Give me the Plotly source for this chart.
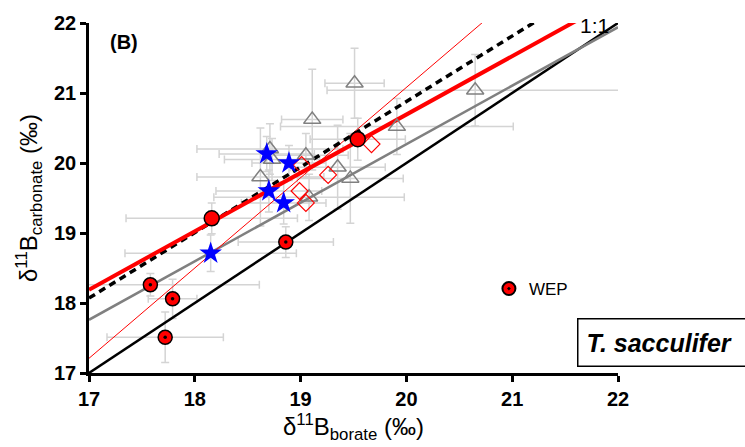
import plotly.graph_objects as go

# ---------------- data ----------------
# open grey triangles
tri_x = [19.51, 19.11, 19.91, 20.65, 18.71, 18.73, 19.05, 19.35, 18.62, 19.47, 19.08]
tri_y = [21.14, 20.62, 20.52, 21.04, 20.20, 20.05, 20.11, 19.94, 19.80, 19.78, 19.51]
tri_ex = [0.28, 0.29, 1.10, 1.40, 0.69, 0.45, 0.40, 0.45, 0.60, 0.50, 0.90]
tri_ey = [0.50, 0.72, 0.40, 0.51, 0.36, 0.30, 0.31, 0.60, 0.70, 0.64, 0.33]

# red filled circles
circ_x = [18.16, 19.54]
circ_y = [19.21, 20.34]
circ_ex = [0.81, 0.45]
circ_ey = [0.22, 0.30]

# red circles with black dot (WEP)
wep_x = [17.58, 17.79, 17.72, 18.86]
wep_y = [18.26, 18.06, 17.51, 18.87]
wep_ex = [1.03, 0.23, 0.55, 0.45]
wep_ey = [0.16, 0.28, 0.36, 0.22]

# blue stars
star_x = [18.68, 18.89, 18.70, 18.84, 18.15]
star_y = [20.13, 20.00, 19.60, 19.43, 18.71]
star_ex = [0.45, 0.35, 0.50, 0.40, 0.81]
star_ey = [0.25, 0.25, 0.30, 0.30, 0.26]

# open red diamonds
dia_x = [19.67, 19.26, 18.99, 19.05, 19.01]
dia_y = [20.27, 19.83, 19.60, 19.43, 19.97]

# fitted / reference lines: y = intercept + slope * (x - 17)
line_names = ["1:1", "grey fit", "thin red fit", "dashed fit", "red fit"]
line_intercepts = [17.0, 17.76, 17.21, 18.07, 18.19]
line_slopes = [1.0, 0.836, 1.29, 0.936, 0.834]
line_colors = ["#000000", "#808080", "#ff0000", "#000000", "#ff0000"]
line_widths = [2.5, 2.5, 1, 3.5, 4]
line_dash = ["solid", "solid", "solid", "7px,5px", "solid"]

x_range = [17, 22]
y_range = [17, 22]
tick_vals = [17, 18, 19, 20, 21, 22]

# ---------------- figure ----------------
fig = go.Figure()

EB_COL = "#d4d4d4"

def err_trace(xs, ys, exs, eys):
    return go.Scatter(
        x=xs, y=ys, mode="markers",
        marker=dict(size=1, color="rgba(0,0,0,0)"),
        error_x=dict(type="data", array=exs, color=EB_COL, thickness=1.5, width=4),
        error_y=dict(type="data", array=eys, color=EB_COL, thickness=1.5, width=4),
        showlegend=False, hoverinfo="skip",
    )

fig.add_trace(err_trace(tri_x, tri_y, tri_ex, tri_ey))
fig.add_trace(err_trace(star_x, star_y, star_ex, star_ey))
fig.add_trace(err_trace(circ_x, circ_y, circ_ex, circ_ey))
fig.add_trace(err_trace(wep_x, wep_y, wep_ex, wep_ey))

for name, b, m, c, w, d in zip(line_names, line_intercepts, line_slopes,
                                line_colors, line_widths, line_dash):
    xs = list(x_range)
    ys = [b + m * (xv - 17) for xv in xs]
    fig.add_trace(go.Scatter(x=xs, y=ys, mode="lines", name=name,
                             line=dict(color=c, width=w, dash=d),
                             showlegend=False, hoverinfo="skip"))

fig.add_trace(go.Scatter(x=tri_x, y=tri_y, mode="markers", showlegend=False,
                         marker=dict(symbol="triangle-up-open", size=15,
                                     color="#808080", line=dict(width=1.5, color="#808080"))))
fig.add_trace(go.Scatter(x=dia_x, y=dia_y, mode="markers", showlegend=False,
                         marker=dict(symbol="diamond-open", size=13,
                                     color="#ff0000", line=dict(width=1.2, color="#ff0000"))))
fig.add_trace(go.Scatter(x=star_x, y=star_y, mode="markers", showlegend=False,
                         marker=dict(symbol="star", size=17, color="#0000ff",
                                     line=dict(width=0))))
fig.add_trace(go.Scatter(x=circ_x, y=circ_y, mode="markers", showlegend=False,
                         marker=dict(symbol="circle", size=15, color="#ff0000",
                                     line=dict(width=1.5, color="#000000"))))
fig.add_trace(go.Scatter(x=wep_x, y=wep_y, mode="markers", showlegend=False,
                         marker=dict(symbol="circle", size=14, color="#ff0000",
                                     line=dict(width=1.5, color="#000000"))))
fig.add_trace(go.Scatter(x=wep_x, y=wep_y, mode="markers", showlegend=False,
                         marker=dict(symbol="circle", size=3.5, color="#000000",
                                     line=dict(width=0))))
# legend entry
fig.add_trace(go.Scatter(x=[None], y=[None], mode="markers", name="WEP",
                         showlegend=True,
                         marker=dict(symbol="circle-dot", size=13, color="#ff0000",
                                     line=dict(width=2, color="#000000"))))

fig.update_layout(
    width=745, height=447,
    margin=dict(l=89, r=127, t=23, b=74),
    paper_bgcolor="white", plot_bgcolor="white",
    font=dict(family="Liberation Sans, Arial, sans-serif", color="black"),
    showlegend=True,
    legend=dict(x=0.756, y=0.24, xanchor="left", yanchor="middle",
                bgcolor="rgba(0,0,0,0)", font=dict(size=17),
                itemwidth=30, tracegroupgap=0),
    xaxis=dict(range=x_range, tickvals=tick_vals, showgrid=False, zeroline=False,
               showline=True, linecolor="black", linewidth=2.5,
               ticks="outside", ticklen=6, tickwidth=2.5, tickcolor="black",
               tickfont=dict(size=20, family="Liberation Sans", weight="bold"),
               title=dict(text="δ<sup>11</sup>B<sub>borate</sub> (‰)",
                          font=dict(size=24), standoff=6)),
    yaxis=dict(range=y_range, tickvals=tick_vals, showgrid=False, zeroline=False,
               showline=True, linecolor="black", linewidth=2.5,
               ticks="outside", ticklen=6, tickwidth=2.5, tickcolor="black",
               tickfont=dict(size=20, family="Liberation Sans", weight="bold"),
               title=dict(text="δ<sup>11</sup>B<sub>carbonate</sub> (‰)",
                          font=dict(size=24), standoff=10)),
)

fig.add_annotation(text="<b>(B)</b>", xref="paper", yref="paper",
                   x=0.036, y=0.945, xanchor="left", yanchor="middle",
                   showarrow=False, font=dict(size=20))
fig.add_annotation(text="1:1", xref="x", yref="y", x=21.62, y=21.96,
                   xanchor="left", yanchor="middle", showarrow=False,
                   font=dict(size=21))
fig.add_annotation(text="<b><i>T. sacculifer</i></b>", xref="paper", yref="paper",
                   x=0.9225, y=0.086, xanchor="left", yanchor="middle",
                   showarrow=False, font=dict(size=25), align="left",
                   bordercolor="black", borderwidth=1.5, borderpad=8,
                   bgcolor="white", width=175, height=30)

fig.write_html("out.html")
